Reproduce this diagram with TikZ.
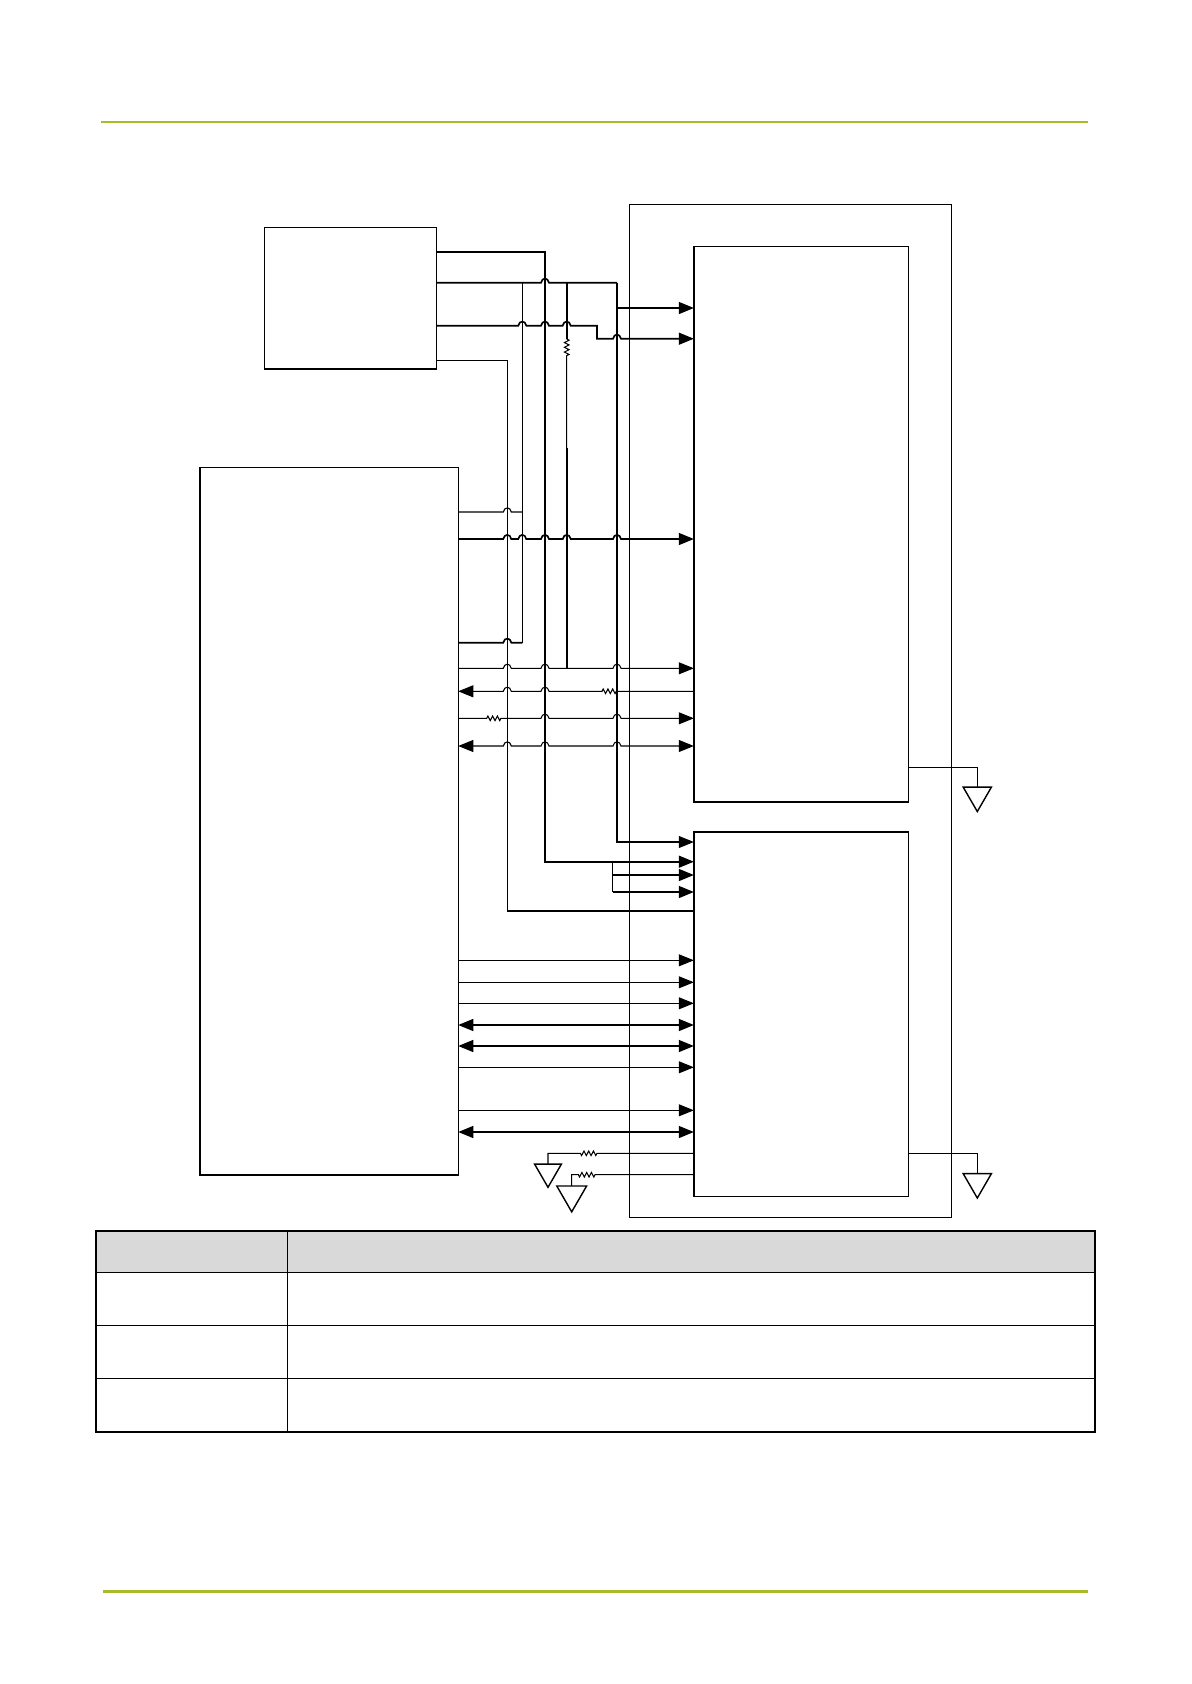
\documentclass[tikz,border=0pt]{standalone}
\usetikzlibrary{arrows.meta, shapes.geometric, fit, decorations.pathmorphing}
\definecolor{rulegreen}{HTML}{A9BB2B}
\definecolor{headgrey}{HTML}{D9D9D9}
\newcommand{\hop}[2]{-- ({#1-4},#2) .. controls ({#1-3},{#2-5.5}) and ({#1+3},{#2-5.5}) .. ({#1+4},#2)}
\begin{document}
\begin{tikzpicture}[
  x=0.02cm, y=-0.02cm,
  >={Triangle[length=8.6pt,width=6.8pt]},
  blockbox/.style={draw, line width=0.8pt, inner sep=0pt, outer sep=0pt},
  cellbox/.style={draw, line width=0.6pt, inner sep=0pt, outer sep=0pt},
  wire/.style={line width=0.6pt},
  bus/.style={line width=0.95pt},
  resist/.style={decorate, decoration={zigzag, amplitude=1.3pt, segment length=2.7pt}},
  ground/.style={regular polygon, regular polygon sides=3, shape border rotate=180,
                 draw, line width=0.8pt, inner sep=0pt, outer sep=0pt, minimum size=#1},
]
  \useasboundingbox (0,0) rectangle (1191,1684);

  \draw[rulegreen, line width=1.4pt] (101,122) -- (1088,122);
  \draw[rulegreen, line width=1.4pt] (103,1591.7) -- (1088,1591.7);

  \node[blockbox, fit={(264.3,227.3) (436.7,369)}] (pwrbox) {};
  \node[blockbox, fit={(200,467.3) (458.2,1175)}] (hostbox) {};
  \node[blockbox, line width=0.65pt, fit={(629.3,204.8) (951.6,1217.3)}] (modbox) {};
  \node[blockbox, fit={(693.9,246.5) (908.6,802)}] (upbox) {};
  \node[blockbox, fit={(693.9,831.9) (908.6,1196.5)}] (lowbox) {};
  \node[ground=0.65cm] (gnda) at (977.3,795.3) {};
  \node[ground=0.65cm] (gndd) at (977.3,1181.8) {};
  \node[ground=0.62cm] (gndb) at (548,1171.8) {};
  \node[ground=0.69cm] (gndc) at (571.7,1194.6) {};

  \draw[bus, ->] (pwrbox.east |- 0,252) -- (545,252) -- (545,861.7) -- (lowbox.west |- 0,861.7);
  \draw[bus] (pwrbox.east |- 0,282.7) \hop{545}{282.7} -- (617,282.7);
  \draw[wire, ->] (617,282.7) -- (617,842) -- (lowbox.west |- 0,842);
  \draw[bus, ->] (617,308) -- (upbox.west |- 0,308);
  \draw[bus] (pwrbox.east |- 0,325.7) \hop{522.3}{325.7} \hop{545}{325.7} \hop{566.7}{325.7}
    -- (597,325.7) -- (597,338.7) \hop{617}{338.7} [->] -- (upbox.west |- 0,338.7);
  \draw[wire] (pwrbox.east |- 0,360.3) -- (507.3,360.3) -- (507.3,910.7);
  \draw[bus] (507.3,910.7) -- (lowbox.west |- 0,910.7);
  \draw[wire] (522.3,282.7) -- (522.3,642.7);
  \draw[bus] (566.7,282.7) -- (566.7,339);
  \draw[wire] (566.7,339) decorate[resist] {-- (566.7,355.7)} -- (566.7,448);
  \draw[bus] (566.7,448) -- (566.7,668.3);

  \draw[wire] (hostbox.east |- 0,512) \hop{507.3}{512} -- (522.3,512);
  \draw[bus, ->] (hostbox.east |- 0,539) \hop{507.3}{539} \hop{522.3}{539} \hop{545}{539}
    \hop{566.7}{539} \hop{617}{539} -- (upbox.west |- 0,539);
  \draw[bus] (hostbox.east |- 0,642.7) \hop{507.3}{642.7} -- (522.3,642.7);
  \draw[wire, ->] (hostbox.east |- 0,668.3) \hop{507.3}{668.3} \hop{545}{668.3} \hop{617}{668.3}
    -- (upbox.west |- 0,668.3);
  \draw[wire, <-] (hostbox.east |- 0,691.3) \hop{507.3}{691.3} \hop{545}{691.3} -- (602,691.3)
    decorate[resist] {-- (617,691.3)} -- (upbox.west |- 0,691.3);
  \draw[wire, ->] (hostbox.east |- 0,718.3) -- (486.7,718.3) decorate[resist] {-- (503,718.3)}
    \hop{545}{718.3} \hop{617}{718.3} -- (upbox.west |- 0,718.3);
  \draw[wire, <->] (hostbox.east |- 0,746) \hop{507.3}{746} \hop{545}{746} \hop{617}{746}
    -- (upbox.west |- 0,746);

  \draw[wire] (612.7,861.7) -- (612.7,892);
  \draw[bus, ->] (612.7,875) -- (lowbox.west |- 0,875);
  \draw[bus, ->] (612.7,892) -- (lowbox.west |- 0,892);

  \foreach \wy in {960.3,982.3,1003.3,1067.3,1110.3}
    \draw[wire, ->] (hostbox.east |- 0,\wy) -- (lowbox.west |- 0,\wy);
  \foreach \wy in {1025,1046,1132}
    \draw[bus, <->] (hostbox.east |- 0,\wy) -- (lowbox.west |- 0,\wy);

  \draw[wire] (lowbox.west |- 0,1153.3) -- (597,1153.3) decorate[resist] {-- (580,1153.3)}
    -- (548,1153.3) -- (gndb.north);
  \draw[wire] (lowbox.west |- 0,1174.7) -- (595,1174.7) decorate[resist] {-- (578,1174.7)}
    -- (571.7,1174.7) -- (gndc.north);
  \draw[wire] (upbox.east |- 0,767.3) -| (gnda.north);
  \draw[wire] (lowbox.east |- 0,1153.3) -| (gndd.north);

  \node[cellbox, fill=headgrey, fit={(95.7,1231) (287.3,1272.3)}] (heada) {};
  \node[cellbox, fill=headgrey, fit={(287.3,1231) (1095,1272.3)}] (headb) {};
  \foreach \rtop/\rbot [count=\rnum] in {1272.3/1325.3,1325.3/1378.3,1378.3/1431.7} {
    \node[cellbox, fit={(95.7,\rtop) (287.3,\rbot)}] (cella\rnum) {};
    \node[cellbox, fit={(287.3,\rtop) (1095,\rbot)}] (cellb\rnum) {};
  }
  \node[draw, line width=1pt, inner sep=0pt, outer sep=0pt, fit={(95.7,1231) (1095,1431.7)}] (tblframe) {};
\end{tikzpicture}
\end{document}
